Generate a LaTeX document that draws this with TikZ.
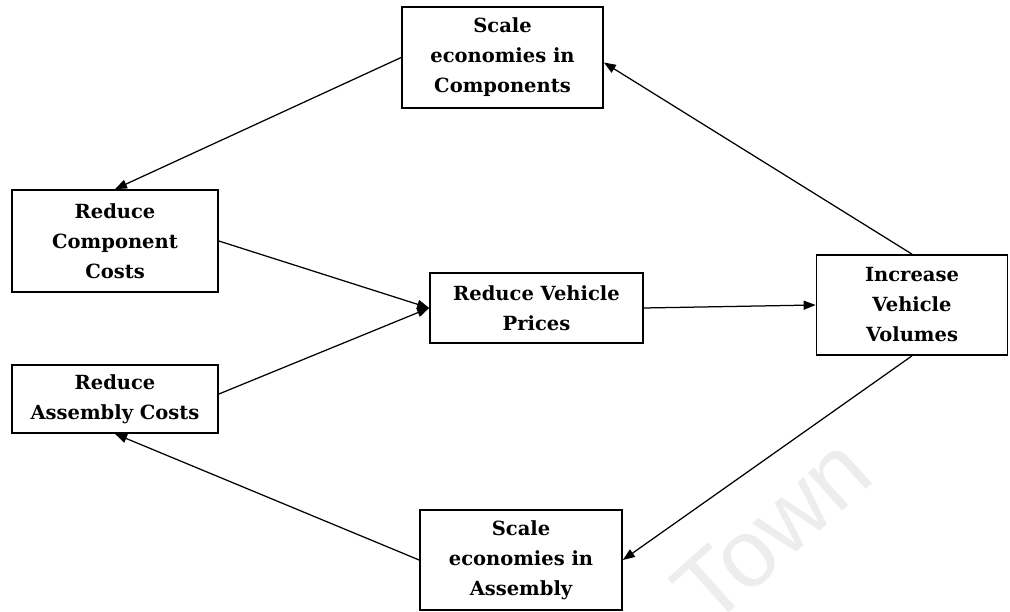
\documentclass[tikz,border=0pt]{standalone}
\usepackage{fontspec}
\setmainfont{DejaVu Serif}
\newfontfamily\wmfont{Liberation Sans}
\usetikzlibrary{arrows.meta}
\begin{document}
\begin{tikzpicture}[x=1pt,y=-1pt,
  box/.style={draw, line width=1.7pt, align=center, inner sep=0pt,
    font=\bfseries\fontsize{19.5}{30}\selectfont},
  arr/.style={line width=1.25pt, -{Triangle[length=12pt,width=9pt]}},
  wm/.style={text=black!7, font=\wmfont\fontsize{96}{96}\selectfont, inner sep=0pt, text depth=0pt}]
\useasboundingbox (0,0) rectangle (1010,612);
\node[wm, rotate=42] (town) at (772,530) {Town};
\node[box, minimum width=201pt, minimum height=101pt] (C) at (502.5,57.5) {Scale\\economies in\\Components};
\node[box, minimum width=206pt, minimum height=102pt] (RCC) at (115,241) {Reduce\\Component\\Costs};
\node[box, minimum width=206pt, minimum height=68pt] (RAC) at (115,399) {Reduce\\Assembly Costs};
\node[box, minimum width=213pt, minimum height=70pt] (RVP) at (536.5,308) {Reduce Vehicle\\Prices};
\node[box, minimum width=191pt, minimum height=100pt] (IVV) at (912,305) {Increase\\Vehicle\\Volumes};
\node[box, minimum width=202pt, minimum height=100pt] (SEA) at (521,560) {Scale\\economies in\\Assembly};
\draw[arr] (C.west) -- (RCC.north);
\draw[arr] (IVV.north) -- ([yshift=-5pt]C.east);
\draw[arr] (RCC.east) -- (RVP.west);
\draw[arr] ([yshift=5pt]RAC.east) -- (RVP.west);
\draw[arr] (RVP.east) -- (IVV.west);
\draw[arr] (IVV.south) -- (SEA.east);
\draw[arr] (SEA.west) -- (RAC.south);
\end{tikzpicture}
\end{document}
